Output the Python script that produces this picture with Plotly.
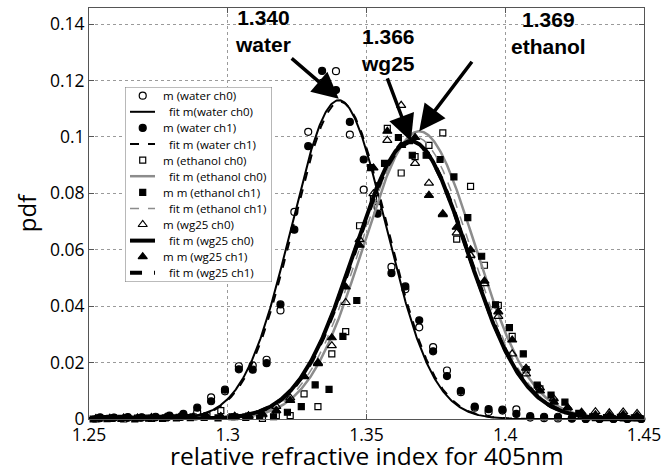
import numpy as np
import plotly.graph_objects as go

# ---- measured histograms (pdf per bin) ----
water_x = [1.254, 1.259, 1.264, 1.269, 1.274, 1.279, 1.284, 1.289, 1.294, 1.299,
           1.304, 1.309, 1.314, 1.319, 1.324, 1.329, 1.334, 1.339, 1.344, 1.349,
           1.354, 1.359, 1.364, 1.369, 1.374, 1.379, 1.384, 1.389, 1.394, 1.399,
           1.404, 1.409, 1.414, 1.419, 1.424, 1.429, 1.434, 1.439, 1.444, 1.449]
water_ch0 = [0.0003, 0.0005, 0.0004, 0.0006, 0.0008, 0.0010, 0.0014, 0.0025, 0.0077, 0.0098,
             0.0187, 0.0190, 0.0210, 0.0385, 0.0734, 0.1018, 0.1192, 0.1233, 0.1008, 0.0813,
             0.0750, 0.0539, 0.0460, 0.0325, 0.0255, 0.0172, 0.0095, 0.0040, 0.0025, 0.0030,
             0.0034, 0.0005, 0.0003, 0.0002, 0.0001, 0.0, 0.0, 0.0, 0.0, 0.0]
water_ch1 = [0.0006, 0.0004, 0.0007, 0.0005, 0.0006, 0.0012, 0.0018, 0.0040, 0.0063, 0.0104,
             0.0176, 0.0175, 0.0198, 0.0406, 0.0671, 0.0967, 0.1234, 0.1166, 0.1053, 0.0920,
             0.0728, 0.0517, 0.0470, 0.0350, 0.0240, 0.0152, 0.0100, 0.0044, 0.0035, 0.0033,
             0.0018, 0.0010, 0.0008, 0.0008, 0.0003, 0.0, 0.0, 0.0, 0.0, 0.0]

mix_x = [1.2525, 1.2575, 1.2625, 1.2675, 1.2725, 1.2775, 1.2825, 1.2875, 1.2925, 1.2975,
         1.3025, 1.3075, 1.3125, 1.3175, 1.3225, 1.3275, 1.3325, 1.3375, 1.3425, 1.3475,
         1.3525, 1.3575, 1.3625, 1.3675, 1.3725, 1.3775, 1.3825, 1.3875, 1.3925, 1.3975,
         1.4025, 1.4075, 1.4125, 1.4175, 1.4225, 1.4275, 1.4325, 1.4375, 1.4425, 1.4475]
ethanol_ch0 = [0.0, 0.0002, 0.0, 0.0003, 0.0002, 0.0004, 0.0006, 0.0008, 0.0012, 0.0030,
               0.0008, 0.0010, 0.0002, 0.0012, 0.0012, 0.0089, 0.0044, 0.0231, 0.0310, 0.0685,
               0.0780, 0.1030, 0.0872, 0.0930, 0.0970, 0.1014, 0.0638, 0.0825, 0.0545, 0.0403,
               0.0293, 0.0175, 0.0107, 0.0060, 0.0030, 0.0012, 0.0005, 0.0006, 0.0004, 0.0005]

eth1_x = [1.2515, 1.2565, 1.2615, 1.2665, 1.2715, 1.2765, 1.2815, 1.2865, 1.2915, 1.2965,
          1.3015, 1.3065, 1.3115, 1.3165, 1.3215, 1.3265, 1.3315, 1.3365, 1.3415, 1.3465,
          1.3515, 1.3565, 1.3615, 1.3665, 1.3715, 1.3765, 1.3815, 1.3865, 1.3915, 1.3965,
          1.4015, 1.4065, 1.4115, 1.4165, 1.4215, 1.4265, 1.4315, 1.4365, 1.4415, 1.4465]
ethanol_ch1 = [0.0, 0.0001, 0.0002, 0.0, 0.0003, 0.0002, 0.0004, 0.0005, 0.0006, 0.0004,
               0.0008, 0.0006, 0.0012, 0.0008, 0.0024, 0.0044, 0.0121, 0.0105, 0.0293, 0.0420,
               0.0891, 0.0906, 0.0998, 0.0935, 0.0935, 0.0920, 0.0858, 0.0714, 0.0577, 0.0405,
               0.0324, 0.0231, 0.0120, 0.0085, 0.0060, 0.0020, 0.0008, 0.0005, 0.0006, 0.0004]

wg25_ch0 = [0.0, 0.0003, 0.0002, 0.0004, 0.0003, 0.0005, 0.0004, 0.0006, 0.0008, 0.0007,
            0.0010, 0.0009, 0.0015, 0.0045, 0.0075, 0.0152, 0.0196, 0.0260, 0.0413, 0.0636,
            0.0799, 0.0988, 0.1112, 0.0906, 0.0836, 0.0728, 0.0660, 0.0580, 0.0480, 0.0364,
            0.0231, 0.0160, 0.0110, 0.0072, 0.0040, 0.0024, 0.0026, 0.0022, 0.0025, 0.0020]
wg25_ch1 = [0.0002, 0.0, 0.0004, 0.0002, 0.0005, 0.0003, 0.0006, 0.0005, 0.0007, 0.0009,
            0.0008, 0.0012, 0.0018, 0.0030, 0.0066, 0.0150, 0.0200, 0.0288, 0.0468, 0.0616,
            0.0890, 0.1020, 0.0970, 0.0998, 0.0793, 0.0724, 0.0680, 0.0600, 0.0489, 0.0380,
            0.0280, 0.0180, 0.0100, 0.0060, 0.0040, 0.0020, 0.0015, 0.0014, 0.0016, 0.0012]

# ---- Gaussian fit parameters (mean, sigma, peak height) ----
fit_names = ["fit m(water ch0)", "fit m (water ch1)", "fit m (ethanol ch0)",
             "fit m (ethanol ch1)", "fit m (wg25 ch0)", "fit m (wg25 ch1)"]
fit_means = [1.340, 1.3405, 1.369, 1.3675, 1.366, 1.3662]
fit_sigmas = [0.0170, 0.0170, 0.0200, 0.0200, 0.0203, 0.0203]
fit_peaks = [0.1130, 0.1125, 0.1020, 0.1000, 0.0985, 0.0982]

x_ticks = [1.25, 1.3, 1.35, 1.4, 1.45]
y_ticks = [0, 0.02, 0.04, 0.06, 0.08, 0.1, 0.12, 0.14]

FONT = "Open Sans"
GRAY = "#8c8c8c"
xs = np.linspace(1.25, 1.45, 801)


def gauss(i):
    return fit_peaks[i] * np.exp(-0.5 * ((xs - fit_means[i]) / fit_sigmas[i]) ** 2)


# (kind, label, style, x or fit index, y) in legend order; markers and fit lines alternate
entries = [
    ("m", "m (water ch0)", dict(symbol="circle-open", size=7), water_x, water_ch0),
    ("f", "fit m(water ch0)", dict(color="black", width=2, dash="solid"), 0, None),
    ("m", "m (water ch1)", dict(symbol="circle", size=7), water_x, water_ch1),
    ("f", "fit m (water ch1)", dict(color="black", width=2, dash="dash"), 1, None),
    ("m", "m (ethanol ch0)", dict(symbol="square-open", size=6), mix_x, ethanol_ch0),
    ("f", "fit m (ethanol ch0)", dict(color=GRAY, width=2.5, dash="solid"), 2, None),
    ("m", "m m (ethanol ch1)", dict(symbol="square", size=6), eth1_x, ethanol_ch1),
    ("f", "fit m (ethanol ch1)", dict(color=GRAY, width=1.5, dash="dash"), 3, None),
    ("m", "m (wg25 ch0)", dict(symbol="triangle-up-open", size=8), mix_x, wg25_ch0),
    ("f", "fit m (wg25 ch0)", dict(color="black", width=4, dash="solid"), 4, None),
    ("m", "m m (wg25 ch1)", dict(symbol="triangle-up", size=8), mix_x, wg25_ch1),
    ("f", "fit m (wg25 ch1)", dict(color="black", width=4, dash="dash"), 5, None),
]

fig = go.Figure()

for kind, label, style, a, b in entries:
    if kind == "m":
        fig.add_trace(go.Scatter(
            x=a, y=b, mode="markers", name=label, cliponaxis=False,
            marker=dict(color="black", line=dict(color="black", width=1.2), **style)))
    else:
        fig.add_trace(go.Scatter(x=xs, y=gauss(a), mode="lines", name=label, line=style))

# ---- legend box drawn on its own small subplot (units: pixels inside the box) ----
BOX_W, BOX_H, ROW0, ROW_H = 147, 195, 8.7, 16.1
fig.add_trace(go.Scatter(
    x=[0, BOX_W, BOX_W, 0, 0], y=[0, 0, BOX_H, BOX_H, 0], mode="lines",
    fill="toself", fillcolor="white", line=dict(color="#777", width=1),
    cliponaxis=False, showlegend=False, hoverinfo="skip", xaxis="x2", yaxis="y2"))
for i, (kind, label, style, a, b) in enumerate(entries):
    row_y = ROW0 + ROW_H * i
    if kind == "m":
        fig.add_trace(go.Scatter(
            x=[17.7], y=[row_y], mode="markers", showlegend=False, hoverinfo="skip",
            marker=dict(color="black", line=dict(color="black", width=1.2), **style),
            xaxis="x2", yaxis="y2"))
        text_x = 35.5
    else:
        fig.add_trace(go.Scatter(
            x=[5, 30], y=[row_y, row_y], mode="lines", showlegend=False, hoverinfo="skip",
            line=style, xaxis="x2", yaxis="y2"))
        text_x = 41.5
    fig.add_annotation(x=text_x, y=row_y, xref="x2", yref="y2", text=label,
                       showarrow=False, xanchor="left", yanchor="middle",
                       font=dict(family=FONT, size=11.5, color="black"))

# peak labels with arrows
labels = [
    dict(text="1.340<br>water", x=1.3127, y=0.1376, tip=(1.340, 0.1135), tail=(1.3225, 0.1283)),
    dict(text="1.366<br>wg25", x=1.3578, y=0.1308, tip=(1.366, 0.0985), tail=(1.3573, 0.1213)),
    dict(text="1.369<br>ethanol", x=1.4155, y=0.1370, tip=(1.369, 0.1020), tail=(1.3884, 0.1272)),
]
for lab in labels:
    fig.add_annotation(x=lab["x"], y=lab["y"], xref="x", yref="y",
                       text="<b>" + lab["text"] + "</b>",
                       showarrow=False, font=dict(family="Liberation Sans", size=21, color="black"),
                       align="center")
    fig.add_annotation(x=lab["tip"][0], y=lab["tip"][1], ax=lab["tail"][0], ay=lab["tail"][1],
                       xref="x", yref="y", axref="x", ayref="y", text="", showarrow=True,
                       arrowhead=2, arrowsize=1.5, arrowwidth=3.5, arrowcolor="black")

# x-axis title placed along the bottom edge of the figure
fig.add_annotation(x=0.5, y=0, xref="paper", yref="paper", yshift=-54,
                   text="relative refractive index for 405nm", showarrow=False,
                   xanchor="center", yanchor="bottom", borderpad=0,
                   font=dict(family=FONT, size=24.5, color="black"))

axis_common = dict(showline=True, linecolor="#555", linewidth=1, mirror="ticks",
                   ticks="inside", ticklen=5, tickcolor="#555",
                   showgrid=True, gridcolor="#9a9a9a", griddash="dot", gridwidth=1,
                   zeroline=False, automargin=False,
                   tickfont=dict(family=FONT, size=17.5, color="black"))

fig.update_layout(
    width=667, height=473,
    margin=dict(l=89, r=23, t=8, b=54),
    paper_bgcolor="white", plot_bgcolor="white",
    showlegend=False,
    xaxis=dict(range=[1.25, 1.45], tickvals=x_ticks, ticktext=[str(v) for v in x_ticks],
               anchor="y", **axis_common),
    yaxis=dict(range=[0, 0.1457], tickvals=y_ticks, ticktext=[str(v) for v in y_ticks],
               anchor="x",
               title=dict(text="pdf", font=dict(family=FONT, size=24, color="black"), standoff=6),
               **axis_common),
    xaxis2=dict(domain=[0.0649, 0.3297], range=[0, BOX_W], anchor="y2",
                visible=False, fixedrange=True),
    yaxis2=dict(domain=[0.3333, 0.8078], range=[BOX_H, 0], anchor="x2",
                visible=False, fixedrange=True),
)

fig.write_html("out.html")
